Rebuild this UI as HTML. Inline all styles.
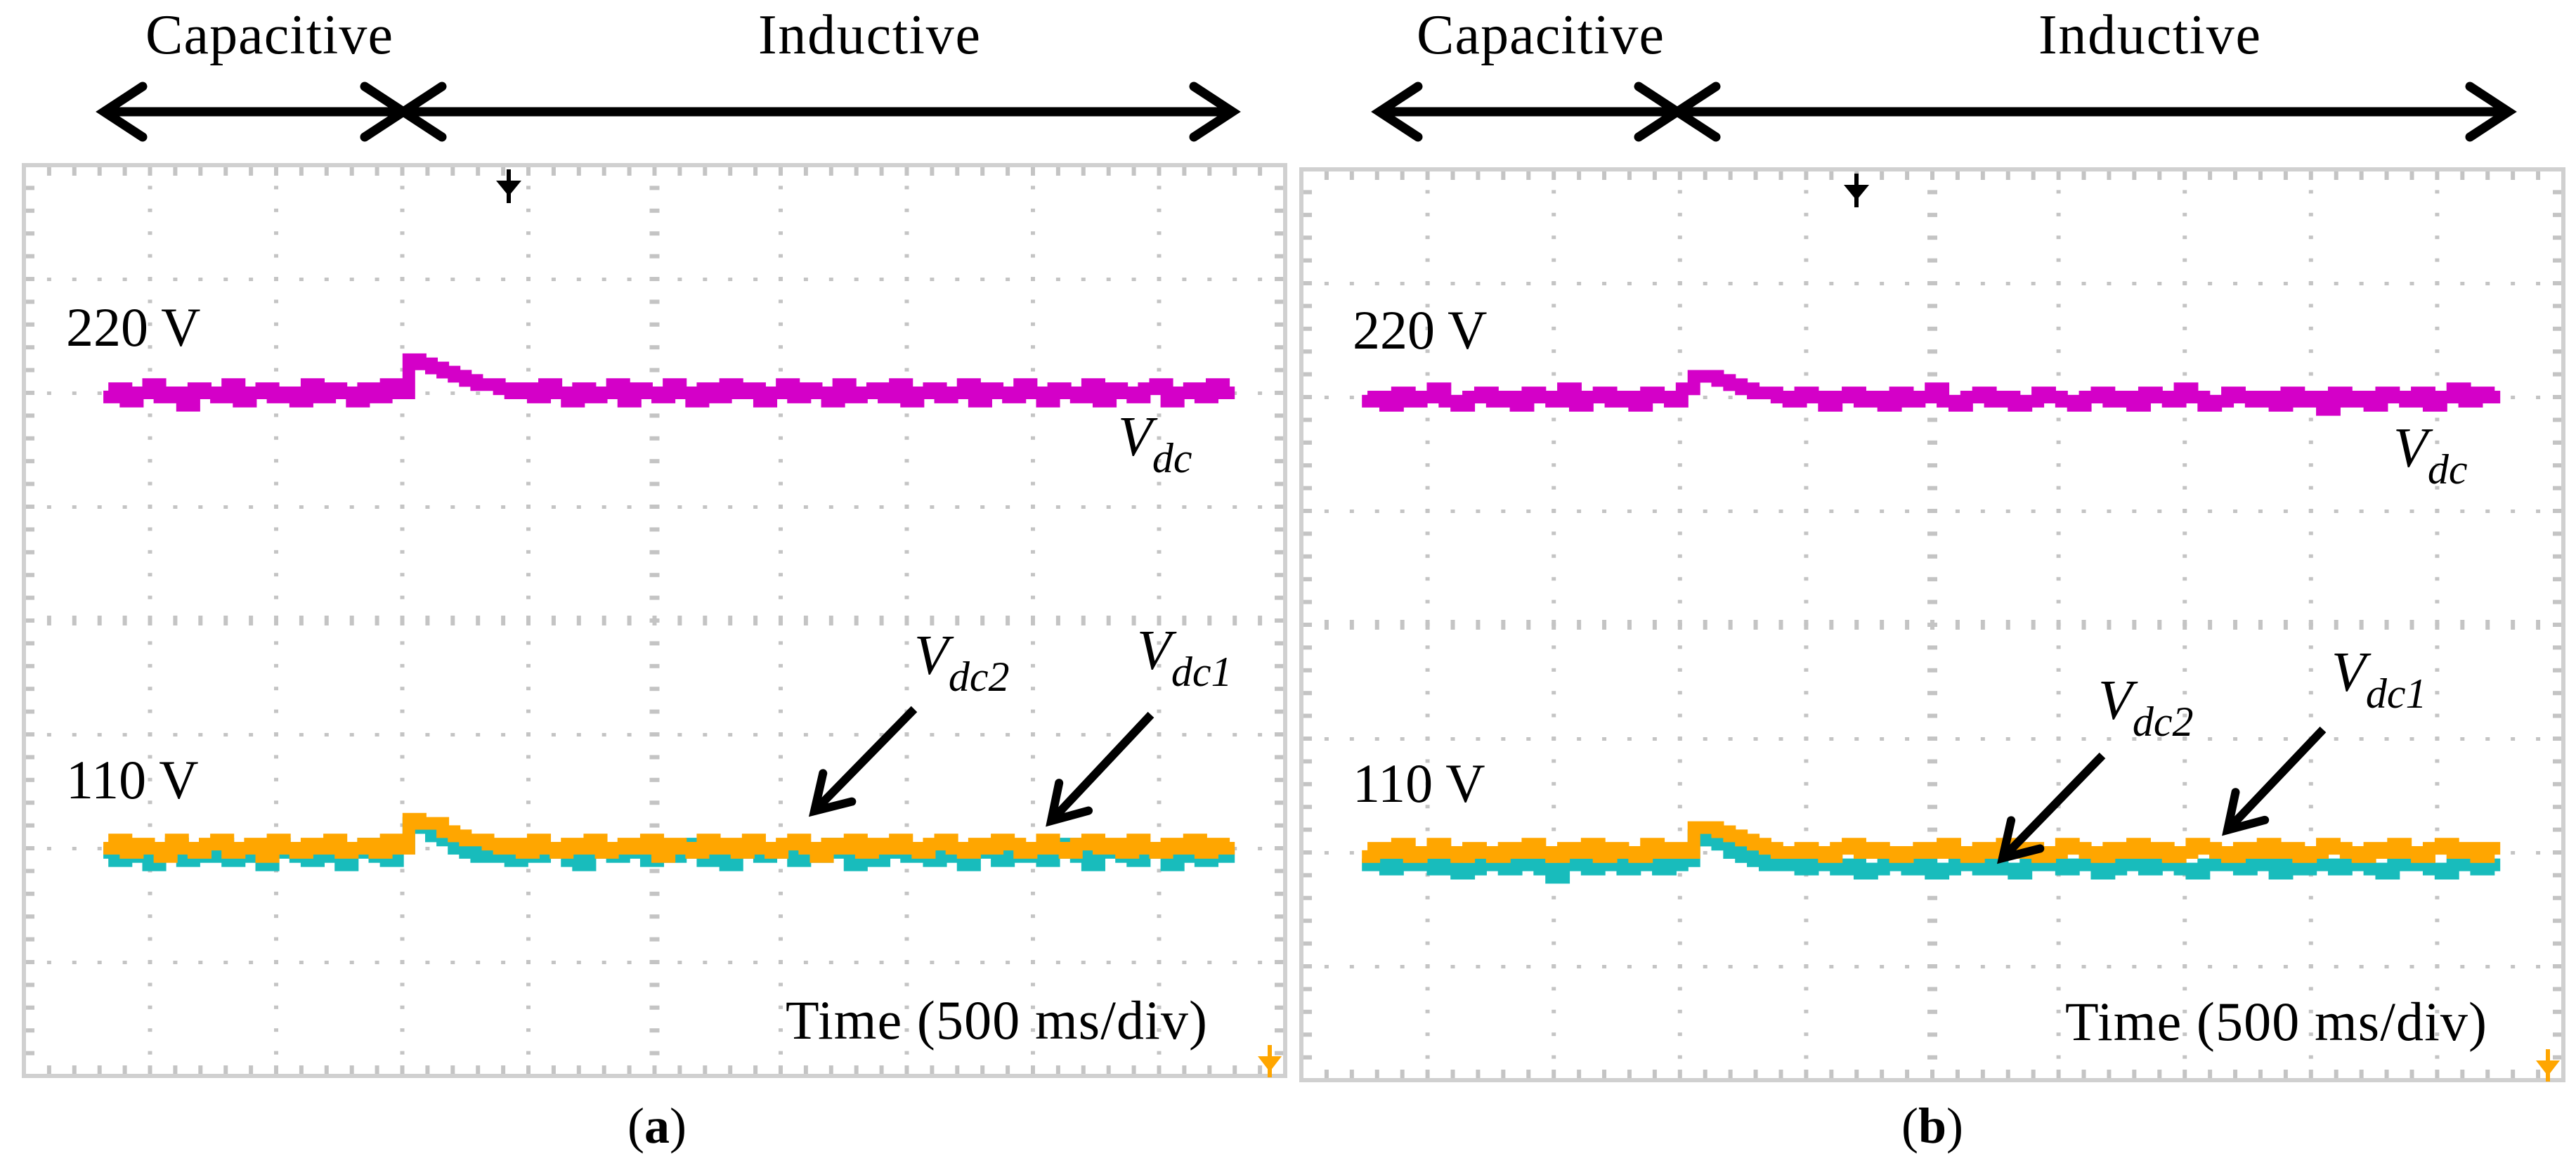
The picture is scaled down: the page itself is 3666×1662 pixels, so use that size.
<!DOCTYPE html>
<html><head><meta charset="utf-8"><style>
html,body{margin:0;padding:0;background:#fff;}
svg{display:block;}
text{font-family:"Liberation Serif",serif;fill:#000;}
</style></head><body>
<svg id="fig" width="3666" height="1662" viewBox="0 0 3666 1662" xmlns="http://www.w3.org/2000/svg"></svg>
<script>
// ---- data (volts) ----
const vdcA = [219,221,218,220,222,219,220,217,221,220,219,222,218,220,221,219,220,218,222,219,221,220,218,221,219,222,220,
  228,227,226,225,224,223,222,222,221,220,221,219,222,220,218,221,219,220,222,218,221,220,219,222,220,218,221,219,222,220,
  221,218,220,222,219,221,220,218,222,219,220,221,219,222,218,220,221,219,220,222,218,221,220,219,222,220,218,221,220,219,
  222,218,221,220,219,221,222,218,220,221,219,222,220];
const vdc1A = [110,112,109,111,110,108,112,110,109,111,112,109,110,111,108,112,110,109,111,110,112,109,110,111,109,112,110,
  117,116,116,114,113,112,112,111,110,111,109,112,110,109,111,110,112,109,110,111,110,112,108,111,110,109,112,110,111,109,
  112,110,109,111,112,110,108,111,110,112,109,111,110,112,110,109,111,112,110,109,111,110,112,111,109,110,112,110,109,111,
  112,110,111,109,112,110,109,111,110,112,109,111,110];
const vdc2A = [109,107,110,108,106,110,111,107,109,108,111,107,108,110,106,111,109,108,107,110,108,106,109,111,108,107,110,
  116,115,113,112,110,109,108,110,108,107,110,108,109,110,107,106,109,110,108,110,109,107,110,108,109,111,107,110,106,109,
  110,108,109,110,107,109,108,111,109,106,110,107,109,110,108,109,107,110,108,106,109,110,107,109,108,110,107,109,111,108,
  106,109,110,108,107,110,109,106,108,110,107,109,108];
const vdcB = [219,220,218,221,219,220,222,219,218,220,221,219,220,218,221,220,219,222,218,220,221,219,220,218,221,220,219,222,
  225,225,224,223,222,221,221,220,219,221,220,218,220,221,219,220,218,221,219,220,222,219,218,220,221,219,220,218,219,221,
  220,219,218,220,221,219,220,218,221,220,219,222,220,218,219,221,220,219,220,218,221,219,220,217,221,219,220,218,221,220,
  219,221,218,220,222,219,221,220];
const vdc1B = [109,111,110,112,109,110,112,110,109,111,110,109,111,110,112,110,109,111,110,112,109,111,110,109,112,110,111,110,
  116,116,115,114,113,112,111,110,110,111,110,109,111,112,110,111,110,109,110,111,110,112,110,109,111,110,112,110,111,109,
  110,112,111,110,109,111,110,112,110,111,109,110,112,111,110,109,111,110,112,110,111,109,110,112,111,110,109,111,110,112,
  110,109,111,112,110,111,109,111];
const vdc2B = [107,108,106,107,109,107,106,108,105,106,108,107,106,107,108,106,104,108,107,106,107,108,106,107,108,106,107,108,
  114,113,112,110,109,108,107,108,107,106,107,108,106,107,105,106,108,107,106,107,105,106,107,108,106,107,106,105,107,108,
  107,106,107,108,105,106,107,108,106,107,108,106,105,107,108,107,106,107,108,105,107,106,108,107,106,107,108,106,105,107,
  108,107,106,105,107,108,106,107];

const NS='http://www.w3.org/2000/svg';
const svg=document.getElementById('fig');
function mk(tag,attrs,parent){const e=document.createElementNS(NS,tag);for(const k in attrs)e.setAttribute(k,attrs[k]);(parent||svg).appendChild(e);return e;}

const panels=[
 {id:'a',x0:34,y0:235,w:1795,h:1296,t0:0.63,t1:9.6,vdc:vdcA,v1:vdc1A,v2:vdc2A,
  trig:724,cap:[148,574,1754],capText:207,indText:1079,
  lab220:94,lab220y:492,lab110y:1136,vdcLab:[1591,668],
  l2:[1301,979],l1:[1618,972],a2:[1301,1009,1159,1154],a1:[1638,1017,1496,1168],
  time:[1118,1478],cap2:935},
 {id:'b',x0:1852,y0:241,w:1796,h:1296,t0:0.48,t1:9.5,vdc:vdcB,v1:vdc1B,v2:vdc2B,
  trig:2642,cap:[1963,2387,3570],capText:2016,indText:2901,
  lab220:1925,lab220y:496,lab110y:1141,vdcLab:[3406,684],
  l2:[2986,1043],l1:[3318,1003],a2:[2992,1075,2850,1221],a1:[3306,1038,3170,1181],
  time:[2939,1480],cap2:2750}
];

function chevron(g,tx,ty,dir){
  return mk('polyline',{points:`${tx-dir*55},${ty-36} ${tx},${ty} ${tx-dir*55},${ty+36}`,fill:'none',stroke:'#000','stroke-width':13,'stroke-linecap':'round','stroke-linejoin':'miter'},g);
}
function annArrow(g,x1,y1,x2,y2,name){
  const a=mk('g',{},g);
  
  
  mk('line',{x1:x1,y1:y1,x2:x2,y2:y2,stroke:'#000','stroke-width':12},a);
  const ang=Math.atan2(y2-y1,x2-x1);
  const L=55,s=0.55;
  const p1=[x2-L*Math.cos(ang-s),y2-L*Math.sin(ang-s)];
  const p2=[x2-L*Math.cos(ang+s),y2-L*Math.sin(ang+s)];
  mk('polyline',{points:`${p1} ${x2},${y2} ${p2}`,fill:'none',stroke:'#000','stroke-width':12,'stroke-linecap':'round'},a);
}
function vlabel(g,x,y,sub,name){
  const t=mk('text',{x:x,y:y,'font-size':80,'font-style':'italic'},g);
  
  
  t.appendChild(document.createTextNode('V'));
  const s=mk('tspan',{dy:24,'font-size':60},t);
  s.textContent=sub;
}

panels.forEach(P=>{
  const g=mk('g',{});
  
  
  const dx=P.w/10, dy=P.h/8;
  const X=d=>P.x0+d*dx;
  const Y=v=>P.y0+(6-(v-110)/27.5)*dy;

  const grid=mk('g',{fill:'#c4c4c4'},g);
  
  
  for(let k=1;k<10;k++){
    for(let j=1;j<40;j++){
      const yy=P.y0+j*dy/5;
      if(k===5) mk('rect',{x:X(k)-7,y:yy-3,width:14,height:6},grid);
      else mk('rect',{x:X(k)-3,y:yy-3,width:6,height:5},grid);
    }
  }
  for(let r=1;r<8;r++){
    const yy=P.y0+r*dy;
    for(let j=1;j<50;j++){
      const xx=P.x0+j*dx/5;
      if(r===4) mk('rect',{x:xx-3,y:yy-7,width:6,height:14},grid);
      else mk('rect',{x:xx-3,y:yy-2,width:6,height:5},grid);
    }
  }
  for(let j=1;j<50;j++){
    const xx=P.x0+j*dx/5;
    mk('rect',{x:xx-3,y:P.y0,width:6,height:15},grid);
    mk('rect',{x:xx-3,y:P.y0+P.h-15,width:6,height:15},grid);
  }
  for(let j=1;j<40;j++){
    const yy=P.y0+j*dy/5;
    mk('rect',{x:P.x0,y:yy-3,width:15,height:6},grid);
    mk('rect',{x:P.x0+P.w-15,y:yy-3,width:15,height:6},grid);
  }
  const bd=mk('rect',{x:P.x0,y:P.y0,width:P.w,height:P.h,fill:'none',stroke:'#d0d0d0','stroke-width':6},g);
  
  

  function trace(vals,color,name){
    const n=vals.length, st=(P.t1-P.t0)/n;
    let d='';
    vals.forEach((v,i)=>{
      const xa=X(P.t0+i*st), xb=X(P.t0+(i+1)*st), y=Y(v);
      d+=(i===0?`M${xa},${y}`:`V${y}`)+`H${xb}`;
    });
    const p=mk('path',{d:d,fill:'none',stroke:color,'stroke-width':18,'stroke-linejoin':'miter'},g);
    
    
  }
  trace(P.vdc,'#d400c8','trace-vdc');
  trace(P.v2,'#18bcbc','trace-vdc2');
  trace(P.v1,'#ffa600','trace-vdc1');

  const tm=mk('g',{},g);
  
  
  mk('rect',{x:P.trig-3,y:P.y0+6,width:6,height:48},tm);
  mk('polygon',{points:`${P.trig-18},${P.y0+22} ${P.trig+18},${P.y0+22} ${P.trig},${P.y0+44}`,fill:'#000'},tm);
  const om=mk('g',{},g);
  
  
  const ox=P.x0+P.w-22, oy=P.y0+P.h;
  mk('rect',{x:ox-3,y:oy-44,width:6,height:46,fill:'#ffa600'},om);
  mk('polygon',{points:`${ox-17},${oy-28} ${ox+17},${oy-28} ${ox},${oy-6}`,fill:'#ffa600'},om);

  const ra=mk('g',{},g);
  
  
  const ay=159;
  mk('line',{x1:P.cap[0]+4,y1:ay,x2:P.cap[2]-4,y2:ay,stroke:'#000','stroke-width':13},ra);
  chevron(ra,P.cap[0],ay,-1);
  chevron(ra,P.cap[1],ay,1);
  chevron(ra,P.cap[1],ay,-1);
  chevron(ra,P.cap[2],ay,1);
  const ct=mk('text',{x:P.capText,y:76,'font-size':80,textLength:352},g);
  
  
  ct.textContent='Capacitive';
  const it=mk('text',{x:P.indText,y:76,'font-size':80,textLength:316},g);
  
  
  it.textContent='Inductive';

  const l220=mk('text',{x:P.lab220,y:P.lab220y,'font-size':78},g);
  
  
  l220.textContent='220 V';
  const l110=mk('text',{x:P.lab220,y:P.lab110y,'font-size':78},g);
  
  
  l110.textContent='110 V';

  vlabel(g,P.vdcLab[0],P.vdcLab[1]-20,'dc','vdc-label');
  vlabel(g,P.l2[0],P.l2[1]-20,'dc2','vdc2-label');
  vlabel(g,P.l1[0],P.l1[1]-20,'dc1','vdc1-label');
  annArrow(g,P.a2[0],P.a2[1],P.a2[2],P.a2[3],'vdc2-pointer-arrow');
  annArrow(g,P.a1[0],P.a1[1],P.a1[2],P.a1[3],'vdc1-pointer-arrow');

  const tt=mk('text',{x:P.time[0],y:P.time[1],'font-size':78,textLength:600},g);
  
  
  tt.textContent='Time (500 ms/div)';

  const cp=mk('text',{x:P.cap2,y:1626,'font-size':72,'text-anchor':'middle'},g);
  
  
  cp.appendChild(document.createTextNode('('));
  const b=mk('tspan',{'font-weight':'bold'},cp); b.textContent=P.id;
  cp.appendChild(document.createTextNode(')'));
});
</script>
</body></html>
